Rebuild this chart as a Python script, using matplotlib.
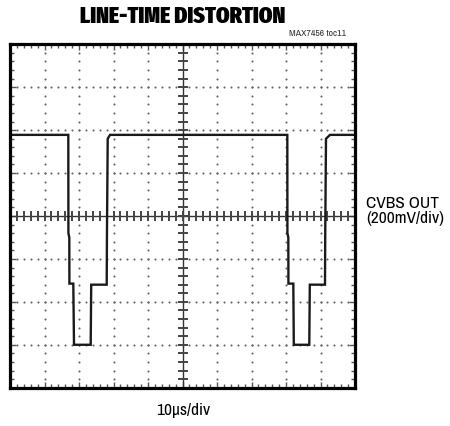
import matplotlib as mpl
mpl.use('Agg')

import matplotlib.pyplot as plt
import numpy as np

# trace: time in us, level in mV (200 mV/div, 10 us/div)
t_us = [0.0, 16.90, 16.93, 17.19, 17.22, 18.35, 18.55, 23.39, 23.54, 28.03,
        28.10, 28.32, 28.99, 80.38, 80.41, 80.67, 80.70, 82.12, 82.26, 86.75,
        86.90, 91.30, 91.37, 91.59, 92.75, 100.0]
v_mv = [378, 378, -80, -100, -315, -315, -600, -600, -320, -320,
        -90, 360, 378, 378, -80, -100, -315, -315, -600, -600,
        -320, -320, -90, 360, 378, 378]

title = 'LINE-TIME DISTORTION'
note = 'MAX7456 toc11'
ylabel_txt = 'CVBS OUT\n(200mV/div)'
xlabel_txt = '10\u03bcs/div'

title_font = ['Fira Sans Extra Condensed', 'DejaVu Sans']
label_font = ['Archivo Narrow', 'DejaVu Sans']

fig = plt.figure(figsize=(4.5, 4.26), dpi=100)
ax = fig.add_axes([10 / 450, 1 - 387.7 / 426, 345 / 450, 343.4 / 426])

ax.set_xlim(0, 100)
ax.set_ylim(-800, 800)

# dotted graticule
xminor = np.arange(0, 100.01, 2)
yminor = np.arange(-800, 800.01, 40)
for k in range(10, 100, 10):
    if k != 50:
        ax.plot([k] * len(yminor), yminor, ls='none', marker='o', ms=1.5,
                mec='none', mfc='#666666')
for k in range(-600, 800, 200):
    if k != 0:
        ax.plot(xminor, [k] * len(xminor), ls='none', marker='o', ms=1.5,
                mec='none', mfc='#666666')

# centre axes with minor ticks
ax.axhline(0, color='#333333', lw=1.0)
ax.axvline(50, color='#333333', lw=1.0)
ax.plot(xminor, np.zeros_like(xminor), ls='none', marker='|', ms=7, mew=1.4, color='#444444')
ax.plot(np.full_like(yminor, 50), yminor, ls='none', marker='_', ms=7, mew=1.4, color='#444444')

ax.plot(t_us, v_mv, color='#1a1a1a', lw=1.7, solid_joinstyle='miter')

ax.set_xticks(np.arange(0, 101, 10))
ax.set_yticks(np.arange(-800, 801, 200))
ax.set_xticks(xminor, minor=True)
ax.set_yticks(yminor, minor=True)
ax.tick_params(which='both', direction='in', top=True, right=True,
               labelleft=False, labelbottom=False, color='#555555')
ax.tick_params(which='major', length=4, width=1.0)
ax.tick_params(which='minor', length=3, width=1.0)
for s in ax.spines.values():
    s.set_linewidth(2.3)

fig.text(182.5 / 450, 1 - 16 / 426, title, ha='center', va='center',
         fontsize=17, fontweight='black', family=title_font)
fig.text(346 / 450, 1 - 33.5 / 426, note, ha='right', va='center',
         fontsize=7, family=label_font, color='#333333')
fig.text(366 / 450, 1 - 211 / 426, ylabel_txt, ha='left', va='center',
         fontsize=12.5, family=label_font, linespacing=1.05)
fig.text(183 / 450, 1 - 410 / 426, xlabel_txt, ha='center', va='center',
         fontsize=12.5, family=label_font)

fig.savefig('out.png', dpi=100)
